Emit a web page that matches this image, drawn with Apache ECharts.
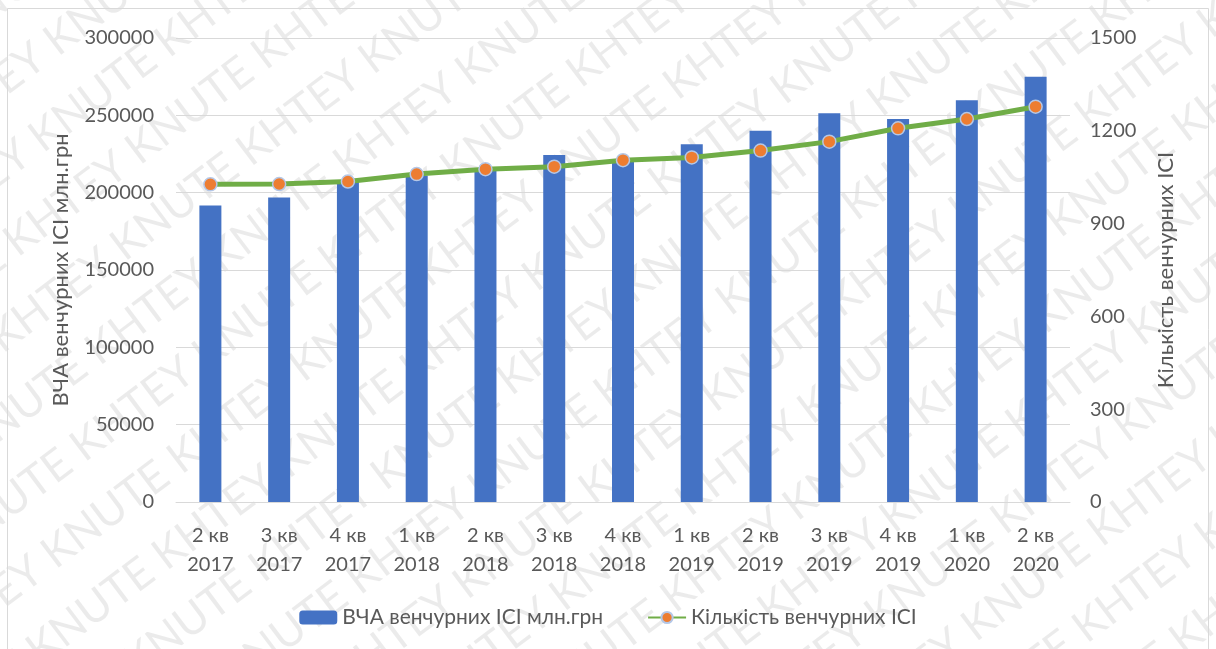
<!DOCTYPE html>
<html>
<head>
<meta charset="utf-8">
<script src="https://cdn.jsdelivr.net/npm/echarts@6/dist/echarts.min.js"></script>
<style>
  html, body { margin: 0; padding: 0; background: #fff; }
  #chart { width: 1216px; height: 649px; }
</style>
</head>
<body>
<div id="chart"></div>
<script>
  var categories = ['2 кв\n2017', '3 кв\n2017', '4 кв\n2017', '1 кв\n2018', '2 кв\n2018', '3 кв\n2018', '4 кв\n2018',
                    '1 кв\n2019', '2 кв\n2019', '3 кв\n2019', '4 кв\n2019', '1 кв\n2020', '2 кв\n2020'];
  var navData = [191700, 196800, 207000, 211000, 215000, 224400, 220000, 231300, 240000, 251300, 247600, 259700, 275000];
  var countData = [1027, 1028, 1036, 1060, 1076, 1084, 1105, 1114, 1136, 1165, 1208, 1238, 1278];
  var leftTicks = { min: 0, max: 300000, interval: 50000 };
  var rightTicks = { min: 0, max: 1500, interval: 300 };

  var font = 'Lato, "Open Sans", sans-serif';
  var textColor = '#595959';

  // background watermark, diagonal rows of text
  function watermark() {
    var c = document.createElement('canvas');
    c.width = 1216; c.height = 649;
    var ctx = c.getContext('2d');
    ctx.fillStyle = 'rgba(0,0,0,0.08)';
    ctx.font = '44px ' + font;
    ctx.translate(608, 324);
    ctx.rotate(-37 * Math.PI / 180);
    var row = 'KNUTE KHTEY KNUTE KHTEY KNUTE KHTEY KNUTE KHTEY KNUTE KHTEY KNUTE KHTEY ';
    for (var i = -10; i <= 10; i++) {
      ctx.fillText(row, -900 + (i % 2) * 70, i * 68);
    }
    return c;
  }

  var chart = echarts.init(document.getElementById('chart'));
  var option = {
    backgroundColor: '#fff',
    animation: false,
    graphic: [
      {
        type: 'image', silent: true, z: -10,
        style: { image: watermark(), x: 0, y: 0, width: 1216, height: 649 }
      },
      {
        type: 'rect', silent: true,
        shape: { x: 7.5, y: 8.5, width: 1201, height: 660 },
        style: { fill: 'none', stroke: '#d9d9d9', lineWidth: 1 }
      }
    ],
    grid: { left: 176, right: 146, top: 38, bottom: 147 },
    legend: {
      bottom: 16,
      left: 'center',
      itemGap: 44,
      itemWidth: 38,
      itemHeight: 14,
      textStyle: { fontFamily: font, fontSize: 21, color: textColor },
      data: ['ВЧА венчурних ІСІ млн.грн', 'Кількість венчурних ІСІ']
    },
    xAxis: {
      type: 'category',
      data: categories,
      axisTick: { show: false },
      axisLine: { lineStyle: { color: '#d9d9d9', width: 1 } },
      axisLabel: { color: textColor, fontFamily: font, fontSize: 20, lineHeight: 29, margin: 19, interval: 0 }
    },
    yAxis: [
      {
        type: 'value',
        min: leftTicks.min, max: leftTicks.max, interval: leftTicks.interval,
        name: 'ВЧА венчурних ІСІ млн.грн',
        nameLocation: 'middle',
        nameRotate: 90,
        nameGap: 104,
        nameTextStyle: { color: textColor, fontFamily: font, fontSize: 22 },
        axisLine: { show: false },
        axisTick: { show: false },
        splitLine: { lineStyle: { color: '#d9d9d9', width: 1 } },
        axisLabel: { color: textColor, fontFamily: font, fontSize: 20, margin: 22, formatter: function (v) { return String(v); } }
      },
      {
        type: 'value',
        position: 'right',
        min: rightTicks.min, max: rightTicks.max, interval: rightTicks.interval,
        name: 'Кількість венчурних ІСІ',
        nameLocation: 'middle',
        nameRotate: 90,
        nameGap: 85,
        nameTextStyle: { color: textColor, fontFamily: font, fontSize: 22 },
        axisLine: { show: false },
        axisTick: { show: false },
        splitLine: { show: false },
        axisLabel: { color: textColor, fontFamily: font, fontSize: 20, margin: 20, formatter: function (v) { return String(v); } }
      }
    ],
    series: [
      {
        name: 'ВЧА венчурних ІСІ млн.грн',
        type: 'bar',
        barWidth: 22,
        yAxisIndex: 0,
        itemStyle: { color: '#4472c4' },
        data: navData
      },
      {
        name: 'Кількість венчурних ІСІ',
        type: 'line',
        yAxisIndex: 1,
        symbol: 'circle',
        symbolSize: 13,
        lineStyle: { color: '#70ad47', width: 5 },
        itemStyle: { color: '#ed7d31', borderColor: '#b4c7e7', borderWidth: 1.5 },
        data: countData
      }
    ]
  };
  chart.setOption(option);
</script>
</body>
</html>
